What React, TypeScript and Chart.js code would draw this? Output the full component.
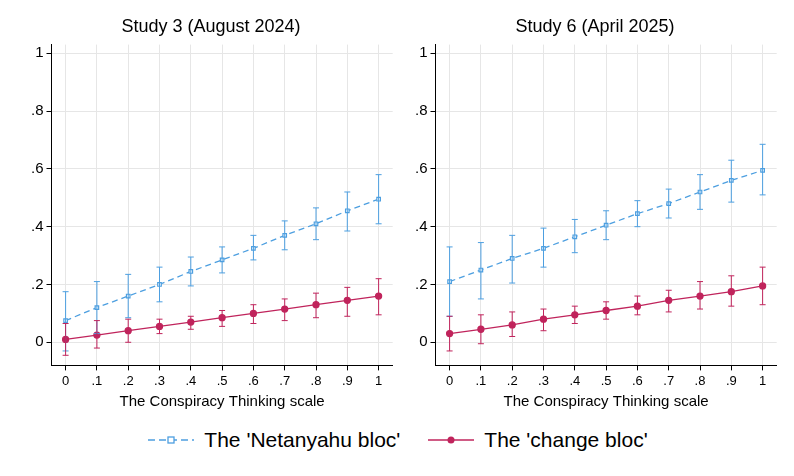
import React, { useEffect, useRef } from "react";
import { Chart, registerables } from "chart.js";
Chart.register(...registerables);

const xs = [0, 0.1, 0.2, 0.3, 0.4, 0.5, 0.6, 0.7, 0.8, 0.9, 1];
const xTickLabels = ["0", ".1", ".2", ".3", ".4", ".5", ".6", ".7", ".8", ".9", "1"];
const yTickLabels: Record<string, string> = { "0": "0", "0.2": ".2", "0.4": ".4", "0.6": ".6", "0.8": ".8", "1": "1" };

const s3Net = [0.075, 0.12, 0.16, 0.2, 0.245, 0.285, 0.325, 0.37, 0.41, 0.455, 0.495];
const s3NetHi = [0.175, 0.21, 0.235, 0.26, 0.295, 0.33, 0.37, 0.42, 0.465, 0.52, 0.58];
const s3NetLo = [-0.03, 0.03, 0.085, 0.14, 0.195, 0.24, 0.285, 0.32, 0.355, 0.385, 0.41];
const s3Chg = [0.01, 0.025, 0.04, 0.055, 0.07, 0.085, 0.1, 0.115, 0.13, 0.145, 0.16];
const s3ChgHi = [0.065, 0.075, 0.08, 0.08, 0.09, 0.11, 0.13, 0.15, 0.17, 0.19, 0.22];
const s3ChgLo = [-0.045, -0.02, 0.0, 0.03, 0.045, 0.055, 0.065, 0.075, 0.085, 0.09, 0.095];

const s6Net = [0.21, 0.25, 0.29, 0.325, 0.365, 0.405, 0.445, 0.48, 0.52, 0.56, 0.595];
const s6NetHi = [0.33, 0.345, 0.37, 0.395, 0.425, 0.455, 0.49, 0.53, 0.58, 0.63, 0.685];
const s6NetLo = [0.09, 0.15, 0.205, 0.26, 0.31, 0.355, 0.4, 0.43, 0.46, 0.485, 0.51];
const s6Chg = [0.03, 0.045, 0.06, 0.08, 0.095, 0.11, 0.125, 0.145, 0.16, 0.175, 0.195];
const s6ChgHi = [0.09, 0.095, 0.105, 0.115, 0.125, 0.14, 0.16, 0.18, 0.21, 0.23, 0.26];
const s6ChgLo = [-0.03, -0.005, 0.02, 0.04, 0.065, 0.08, 0.095, 0.105, 0.115, 0.125, 0.13];

const BLUE = "#4d9fe0";
const RED = "#c0245c";
const FONT = "'Liberation Sans', Arial, sans-serif";

const errPlugin = {
  id: "err",
  afterDatasetsDraw(chart: any) {
    const ctx = chart.ctx;
    const xS = chart.scales.x, yS = chart.scales.y;
    chart.data.datasets.forEach((ds: any) => {
      ctx.save();
      ctx.strokeStyle = ds.borderColor;
      ctx.lineWidth = 1;
      ctx.setLineDash([]);
      ds.lo.forEach((lo: number, i: number) => {
        const px = xS.getPixelForValue(xs[i]);
        const y1 = yS.getPixelForValue(lo), y2 = yS.getPixelForValue(ds.hi[i]);
        ctx.beginPath();
        ctx.moveTo(px, y1); ctx.lineTo(px, y2);
        ctx.moveTo(px - 3, y1); ctx.lineTo(px + 3, y1);
        ctx.moveTo(px - 3, y2); ctx.lineTo(px + 3, y2);
        ctx.stroke();
      });
      ctx.restore();
    });
  },
};

function Panel({ title, net, netLo, netHi, chg, chgLo, chgHi }: any) {
  const ref = useRef<HTMLCanvasElement>(null);
  useEffect(() => {
    const c = new Chart(ref.current!, {
      type: "line",
      data: {
        datasets: [
          { data: xs.map((x, i) => ({ x, y: net[i] })), lo: netLo, hi: netHi, borderColor: BLUE, backgroundColor: "#fff",
            borderWidth: 1.3, borderDash: [6, 4], pointStyle: "rect", pointRadius: 2.5, pointBorderColor: BLUE, pointBorderWidth: 1.2 } as any,
          { data: xs.map((x, i) => ({ x, y: chg[i] })), lo: chgLo, hi: chgHi, borderColor: RED, backgroundColor: RED,
            borderWidth: 1.3, pointStyle: "circle", pointRadius: 3, pointBackgroundColor: RED, pointBorderColor: RED } as any,
        ],
      },
      options: {
        animation: false, responsive: false,
        layout: { padding: { top: 0, right: 4, left: 0, bottom: 0 } },
        plugins: {
          legend: { display: false }, tooltip: { enabled: false },
          title: { display: true, text: title, color: "#000", font: { family: FONT, size: 18, weight: "normal" }, padding: { top: 6, bottom: 7 } },
        },
        scales: {
          x: { type: "linear", min: -0.045, max: 1.045, afterBuildTicks: (a: any) => { a.ticks = xs.map((v) => ({ value: v })); },
            ticks: { color: "#000", font: { family: FONT, size: 13 }, callback: (v: any) => xTickLabels[Math.round(Number(v) * 10)] ?? "" },
            grid: { color: "#e6e6e6", drawTicks: true, tickColor: "#000", tickLength: 5 },
            border: { color: "#000" },
            title: { display: true, text: "The Conspiracy Thinking scale", color: "#000", font: { family: FONT, size: 15 }, padding: { top: 1 } } },
          y: { type: "linear", min: -0.08, max: 1.03, afterBuildTicks: (a: any) => { a.ticks = [0, 0.2, 0.4, 0.6, 0.8, 1].map((v) => ({ value: v })); },
            ticks: { color: "#000", font: { family: FONT, size: 15 }, callback: (v: any) => yTickLabels[String(Math.round(Number(v) * 10) / 10)] ?? "" },
            grid: { color: "#e6e6e6", tickColor: "#000", tickLength: 5 }, border: { color: "#000" } },
        },
      } as any,
      plugins: [errPlugin],
    });
    return () => c.destroy();
  }, []);
  return <canvas ref={ref} width={370} height={405} />;
}

export default function App() {
  return (
    <div style={{ position: "absolute", left: 0, top: 0, width: 794, height: 476, background: "#fff", fontFamily: FONT }}>
      <div style={{ position: "absolute", left: 28, top: 10 }}>
        <Panel title="Study 3 (August 2024)" net={s3Net} netLo={s3NetLo} netHi={s3NetHi} chg={s3Chg} chgLo={s3ChgLo} chgHi={s3ChgHi} />
      </div>
      <div style={{ position: "absolute", left: 412, top: 10 }}>
        <Panel title="Study 6 (April 2025)" net={s6Net} netLo={s6NetLo} netHi={s6NetHi} chg={s6Chg} chgLo={s6ChgLo} chgHi={s6ChgHi} />
      </div>
      <div style={{ position: "absolute", left: 0, width: 794, top: 428, display: "flex", justifyContent: "center", alignItems: "center", fontSize: 21, color: "#000" }}>
        <svg width="50" height="14"><line x1="2" y1="7" x2="48" y2="7" stroke={BLUE} strokeWidth="1.5" strokeDasharray="7 4" /><rect x="22" y="4" width="6" height="6" fill="#fff" stroke={BLUE} strokeWidth="1.3" /></svg>
        <span style={{ marginLeft: 8, marginRight: 26 }}>The 'Netanyahu bloc'</span>
        <svg width="50" height="14"><line x1="2" y1="7" x2="48" y2="7" stroke={RED} strokeWidth="1.5" /><circle cx="25" cy="7" r="3.5" fill={RED} /></svg>
        <span style={{ marginLeft: 8 }}>The 'change bloc'</span>
      </div>
    </div>
  );
}
